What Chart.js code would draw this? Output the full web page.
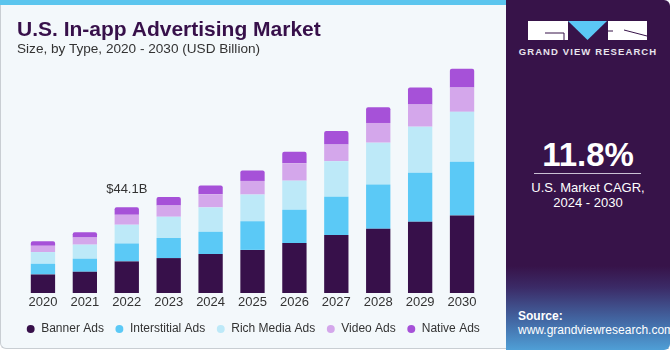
<!DOCTYPE html>
<html>
<head>
<meta charset="utf-8">
<script src="https://cdn.jsdelivr.net/npm/chart.js@4"></script>
<style>
  html, body { margin: 0; padding: 0; width: 670px; height: 350px; overflow: hidden; background: #fff; }
  body { font-family: "Liberation Sans", Arial, sans-serif; position: relative; }
  #card { position: absolute; left: 0; top: 0; width: 668px; height: 348px; background: #f3f8fb;
          border-left: 1px solid #c9ced3; border-bottom: 1px solid #c9ced3; border-radius: 0 0 0 6px; }
  #stripe { position: absolute; left: 0; top: 0; width: 506px; height: 5px; background: #5bc5ee; }
  #title { position: absolute; left: 17px; top: 17px; font-size: 21px; font-weight: bold; color: #37104a; white-space: nowrap; }
  #sub { position: absolute; left: 17px; top: 41px; font-size: 13.6px; color: #333; white-space: nowrap; }
  #wrap { position: absolute; left: 0; top: 0; width: 506px; height: 350px; }
  #panel { position: absolute; left: 506px; top: 0; width: 164px; height: 350px; border-radius: 0 6px 6px 0;
           background: linear-gradient(to bottom, #371349 0%, #371349 76%, #3b2a66 82%, #436aa6 92%, #4f9fd6 100%); }
  .logo { position: absolute; top: 21px; height: 19px; }
  #gvr { position: absolute; left: 0; width: 164px; top: 46px; text-align: center; color: #e8e4ee; font-size: 9.5px; font-weight: bold; letter-spacing: 1.1px; }
  #cagr { position: absolute; left: 0; width: 164px; top: 136px; text-align: center; color: #fff; font-size: 33px; font-weight: bold; }
  #rule { position: absolute; left: 28px; width: 107px; top: 173px; height: 1px; background: #c9c0d3; }
  #cagrtxt { position: absolute; left: 0; width: 164px; top: 180px; text-align: center; color: #fff; font-size: 13px; line-height: 15px; }
  #src { position: absolute; left: 12px; top: 309px; color: #fff; font-size: 12px; line-height: 14px; }
</style>
</head>
<body>
<div id="card"></div>
<div id="stripe"></div>
<div id="wrap"><canvas id="chart"></canvas></div>
<div id="title">U.S. In-app Advertising Market</div>
<div id="sub">Size, by Type, 2020 - 2030 (USD Billion)</div>
<div id="panel">
  <svg class="logo" style="left:22px" width="120" height="19" viewBox="0 0 120 19">
    <rect x="0" y="0" width="40" height="19" fill="#fff"/>
    <path d="M17 12 H36 V19" stroke="#371349" stroke-width="1" fill="none"/>
    <polygon points="40,0 79,0 59.5,19" fill="#5bc8f5"/>
    <rect x="80" y="0" width="39" height="19" fill="#fff"/>
    <path d="M80 10 L85 10 M96 9 L119 15" stroke="#371349" stroke-width="1" fill="none"/>
  </svg>
  <div id="gvr">GRAND VIEW RESEARCH</div>
  <div id="cagr">11.8%</div>
  <div id="rule"></div>
  <div id="cagrtxt">U.S. Market CAGR,<br>2024 - 2030</div>
  <div id="src"><b>Source:</b><br>www.grandviewresearch.com</div>
</div>
<script>
const years = ['2020', '2021', '2022', '2023', '2024', '2025', '2026', '2027', '2028', '2029', '2030'];
const bannerAds = [9.5, 10.9, 16.2, 17.9, 20.0, 22.1, 25.6, 29.7, 33.0, 36.6, 39.8];
const interstitialAds = [5.5, 6.7, 9.2, 10.3, 11.4, 14.7, 17.1, 19.6, 22.7, 25.1, 27.5];
const richMediaAds = [6.0, 7.2, 9.6, 10.9, 12.5, 13.7, 14.9, 18.3, 21.4, 23.6, 25.6];
const videoAds = [3.2, 3.7, 5.1, 5.8, 6.7, 7.0, 8.9, 8.5, 10.1, 11.4, 12.5];
const nativeAds = [2.4, 2.6, 3.9, 4.3, 4.5, 5.3, 6.0, 7.0, 8.0, 8.7, 9.6];
const calloutYear = '2022';
const calloutText = '$44.1B';

const colors = ['#37104a', '#5bc9f6', '#bde9f8', '#d4a7eb', '#a651d8'];
const font = '"Liberation Sans", Arial, sans-serif';

const callout = {
  id: 'callout',
  afterDatasetsDraw(chart) {
    const i = years.indexOf(calloutYear);
    const top = chart.getDatasetMeta(4).data[i];
    const ctx = chart.ctx;
    ctx.save();
    ctx.font = '13px ' + font;
    ctx.fillStyle = '#333';
    ctx.textAlign = 'center';
    ctx.textBaseline = 'middle';
    ctx.fillText(calloutText, top.x, top.y - 18);
    ctx.restore();
  }
};

function ds(label, data, i) {
  return {
    label: label,
    data: data,
    backgroundColor: colors[i],
    borderWidth: 0,
    borderRadius: i === 4 ? 2 : 0,
    borderSkipped: i === 4 ? 'bottom' : false,
    barPercentage: 0.58,
    categoryPercentage: 1
  };
}

// invisible side gutters so the legend keeps the full canvas width
function gutter(pos, w) {
  return {
    position: pos,
    display: true,
    grid: { display: false, drawTicks: false },
    border: { display: false },
    ticks: { display: false },
    afterFit(s) { s.width = w; }
  };
}

new Chart(document.getElementById('chart'), {
  type: 'bar',
  data: {
    labels: years,
    datasets: [
      ds('Banner Ads', bannerAds, 0),
      ds('Interstitial Ads', interstitialAds, 1),
      ds('Rich Media Ads', richMediaAds, 2),
      ds('Video Ads', videoAds, 3),
      ds('Native Ads', nativeAds, 4)
    ]
  },
  options: {
    responsive: true,
    maintainAspectRatio: false,
    animation: false,
    layout: { padding: { top: 59, left: 0, right: 0, bottom: 5 } },
    plugins: {
      legend: {
        position: 'bottom',
        labels: {
          usePointStyle: true,
          pointStyle: 'circle',
          boxWidth: 9,
          boxHeight: 5.6,
          padding: 11,
          color: '#333',
          font: { family: font, size: 12 }
        }
      },
      tooltip: { enabled: false }
    },
    scales: {
      x: {
        stacked: true,
        grid: { display: false, drawTicks: false },
        border: { display: false },
        ticks: { color: '#333', padding: 3, font: { family: font, size: 13, lineHeight: 1 } }
      },
      y: Object.assign(gutter('left', 22), { stacked: true, min: 0, max: 120 }),
      yR: gutter('right', 23)
    }
  },
  plugins: [callout]
});
</script>
</body>
</html>
